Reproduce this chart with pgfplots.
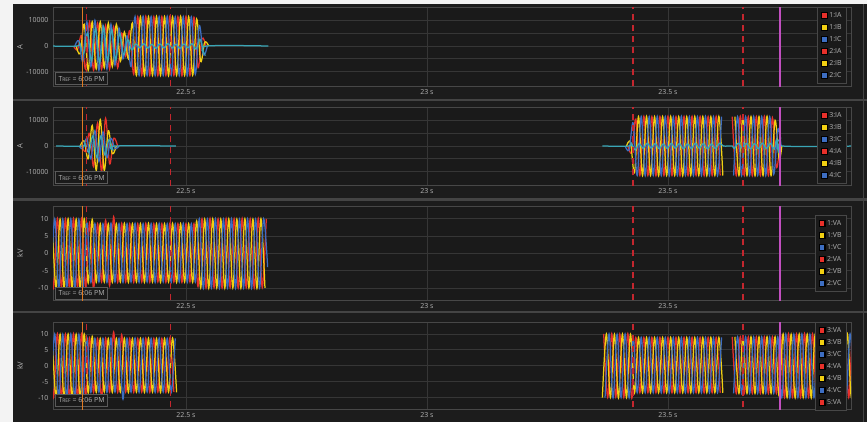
\documentclass[border=0pt]{standalone}
\usepackage{pgfplots}
\pgfplotsset{compat=1.18}
\usepackage{fontspec}
\setmainfont{Open Sans}
\definecolor{outerbg}{HTML}{1C1C1C}
\definecolor{plotbg}{HTML}{1A1A1A}
\definecolor{gridc}{HTML}{363636}
\definecolor{framec}{HTML}{474747}
\definecolor{sepc}{HTML}{444444}
\definecolor{txt}{HTML}{B4B4B4}
\definecolor{cA}{HTML}{E8302A}
\definecolor{cB}{HTML}{F2D012}
\definecolor{cC}{HTML}{3D6EC2}
\definecolor{cN}{HTML}{3AA6B6}
\definecolor{cOr}{HTML}{E07A22}
\definecolor{cDash}{HTML}{C4262E}
\definecolor{cMag}{HTML}{C24FC0}
\definecolor{boxc}{HTML}{5A5A5A}
\definecolor{margin}{HTML}{F3F3F3}

\pgfplotsset{
  panel/.style={
    scale only axis, width=798bp,
    xmin=80.7, xmax=676.7,
    xtick={180,360,540}, xticklabels={22.5 s,23 s,23.5 s},
    scaled y ticks=false, scaled x ticks=false,
    grid=both,
    major grid style={draw=gridc, line width=0.7bp},
    minor grid style={draw=gridc, line width=0.7bp},
    major tick length=0pt, minor tick length=0pt,
    axis line style={draw=framec, line width=0.8bp},
    axis background/.style={fill=plotbg},
    tick label style={text=txt, font=\fontsize{7}{8}\selectfont},
    yticklabel style={xshift=-1bp},
    every axis y label/.style={at={(axis description cs:0,0.5)}, xshift=-33bp, rotate=90, anchor=center, text=txt, font=\fontsize{7.5}{8}\selectfont},
    clip mode=individual,
    every axis plot/.append style={line width=1.25bp, mark=none, smooth, tension=0.55},
    legend cell align=left,
    legend image code/.code={\path[##1] (0.5bp,-2.9bp) rectangle (6.3bp,2.9bp);},
    legend style={at={(1,1)}, anchor=north east, xshift=-4bp, fill=plotbg, draw=framec, line width=0.7bp, text=txt, font=\fontsize{7}{8}\selectfont, inner sep=3.5bp, row sep=3bp, nodes={inner sep=1.5bp, text height=4.8bp, text depth=1.2bp}},
  },
  dashl/.style={cDash, line width=1.1bp, dash pattern=on 6bp off 5bp, forget plot},
  orl/.style={cOr, line width=1.4bp, forget plot},
  magl/.style={cMag, line width=1.3bp, forget plot},
}
\tikzset{tref/.style={draw=boxc, fill=plotbg, text=txt, font=\fontsize{7}{8}\selectfont, inner sep=0pt, minimum width=52.5bp, minimum height=12bp, anchor=south west, line width=0.6bp}}
\newcommand{\treftext}{T{\fontsize{5}{5}\selectfont REF} = 6:06 PM}

\begin{document}
\begin{tikzpicture}
\useasboundingbox (0,0) rectangle (867bp,-422bp);
\fill[margin] (0,0) rectangle (867bp,-422bp);
\fill[outerbg] (13bp,-4bp) rectangle (867bp,-422bp);

% ---------------- Panel 1 ----------------
\begin{axis}[panel, at={(53bp,-86bp)}, anchor=south west, height=78.7bp,
  ymin=-15600, ymax=15100, ytick={-10000,0,10000}, yticklabels={-10000,0,10000},
  minor ytick={-5000,5000}, ylabel={A}]
\addplot[cA, forget plot] coordinates {(96,0)(99,-1500)(102,4000)(105,-9000)(108,9500)(111,-9500)(114,9000)(117,-9200)(120,8000)(123,-9000)(126,7500)(129,-8500)(132,5000)(135,-4000)(138,6000)(141,-11000)(144,11500)(147,-11500)(150,11600)(153,-11500)(156,11500)(159,-11600)(162,11500)(165,-11500)(168,11600)(171,-11500)(174,11500)(177,-11600)(180,11500)(183,-11500)(186,11200)(189,-8500)(192,3000)(195,0)};
\addplot[cB, forget plot] coordinates {(98,0)(101,-3000)(104,8500)(107,-9500)(110,9500)(113,-9000)(116,9500)(119,-8500)(122,9000)(125,-8000)(128,8500)(131,-6000)(134,5500)(137,-5000)(140,9000)(143,-11500)(146,11500)(149,-11600)(152,11500)(155,-11500)(158,11600)(161,-11500)(164,11500)(167,-11600)(170,11500)(173,-11500)(176,11600)(179,-11500)(182,11500)(185,-11400)(188,10500)(191,-6000)(194,1500)(197,0)};
\addplot[cC, forget plot] coordinates {(97,0)(100,2000)(103,-6000)(106,9500)(109,-8000)(112,10000)(115,-9500)(118,8000)(121,-9000)(124,8500)(127,-7500)(130,7000)(133,-5000)(136,4000)(139,-8000)(142,11500)(145,-11500)(148,11600)(151,-11500)(154,11500)(157,-11600)(160,11500)(163,-11500)(166,11600)(169,-11500)(172,11500)(175,-11600)(178,11500)(181,-11500)(184,11400)(187,-11000)(190,8000)(193,-3500)(196,0)};
\addplot[cN, forget plot] coordinates {(78,0)(99,0)(100.5,1500)(103.5,-3000)(106.5,5000)(109.5,-6000)(112.5,7000)(115.5,-6500)(118.5,7500)(121.5,-6000)(124.5,6500)(127.5,-5500)(130.5,5000)(133.5,-3500)(136.5,2500)(139.5,-1500)(142.5,800)(145.5,-700)(148.5,900)(151.5,-800)(154.5,700)(157.5,-900)(160.5,800)(163.5,-700)(166.5,900)(169.5,-800)(172.5,700)(175.5,-900)(178.5,800)(181.5,-700)(184.5,900)(187.5,-1200)(190.5,2600)(193.5,-2800)(195.5,0)(241.5,0)};
\addplot[dashl] coordinates {(105.8,-20000)(105.8,20000)};
\addplot[dashl] coordinates {(168.6,-20000)(168.6,20000)};
\addplot[dashl] coordinates {(513.9,-20000)(513.9,20000)};
\addplot[dashl] coordinates {(596.0,-20000)(596.0,20000)};
\node[tref] at (rel axis cs:0.0025,0.013) {\treftext};
\addplot[orl] coordinates {(102.8,-20000)(102.8,20000)};
\addplot[magl] coordinates {(623.7,-20000)(623.7,20000)};
\addlegendimage{fill=cA}\addlegendentry{1:IA}
\addlegendimage{fill=cB}\addlegendentry{1:IB}
\addlegendimage{fill=cC}\addlegendentry{1:IC}
\addlegendimage{fill=cA}\addlegendentry{2:IA}
\addlegendimage{fill=cB}\addlegendentry{2:IB}
\addlegendimage{fill=cC}\addlegendentry{2:IC}
\end{axis}

% ---------------- Panel 2 ----------------
\begin{axis}[panel, at={(53bp,-185bp)}, anchor=south west, height=77.7bp,
  ymin=-15200, ymax=15100, ytick={-10000,0,10000}, yticklabels={-10000,0,10000},
  minor ytick={-5000,5000}, ylabel={A}]
\addplot[cA, forget plot] coordinates {(102,0)(105,-2000)(108,5000)(111,-8000)(114,9000)(117,-10000)(120,10800)(123,-7000)(126,3000)(129,0)};
\addplot[cB, forget plot] coordinates {(101,0)(104,2000)(107,-5000)(110,8000)(113,-9500)(116,10300)(119,-9500)(122,6000)(125,-3000)(128,0)};
\addplot[cC, forget plot] coordinates {(100,0)(103,-1000)(106,3000)(109,-5000)(112,6000)(115,-6000)(118,5500)(121,-4500)(124,3000)(127,-1000)(130,0)};
\addplot[cN, forget plot] coordinates {(83,0)(103,0)(104.5,1000)(107.5,-2500)(110.5,4000)(113.5,-4500)(116.5,4000)(119.5,-3500)(122.5,2500)(125.5,-1500)(127,0)(172.5,0)};
\addplot[cA, forget plot] coordinates {(510,0)(513,-2500)(516,10500)(519,-11500)(522,11600)(525,-11500)(528,11500)(531,-11600)(534,11500)(537,-11500)(540,11600)(543,-11500)(546,11500)(549,-11600)(552,11500)(555,-11500)(558,11600)(561,-11500)(564,11500)(567,-11600)(570,11500)(573,-11500)(576,11600)(579,-11500)};
\addplot[cB, forget plot] coordinates {(509,0)(512,1500)(515,-10500)(518,11500)(521,-11500)(524,11600)(527,-11500)(530,11500)(533,-11600)(536,11500)(539,-11500)(542,11600)(545,-11500)(548,11500)(551,-11600)(554,11500)(557,-11500)(560,11600)(563,-11500)(566,11500)(569,-11600)(572,11500)(575,-11500)(578,11600)(581,-11500)};
\addplot[cC, forget plot] coordinates {(508,0)(511,-1500)(514,9000)(517,-11500)(520,11500)(523,-11600)(526,11500)(529,-11500)(532,11600)(535,-11500)(538,11500)(541,-11600)(544,11500)(547,-11500)(550,11600)(553,-11500)(556,11500)(559,-11600)(562,11500)(565,-11500)(568,11600)(571,-11500)(574,11500)(577,-11600)(580,11500)};
\addplot[cA, forget plot] coordinates {(588,11500)(591,-11500)(594,11600)(597,-11500)(600,11500)(603,-11600)(606,11500)(609,-11500)(612,11600)(615,-11500)(618,11000)(621,-8500)(624,2500)};
\addplot[cB, forget plot] coordinates {(590,11500)(593,-11500)(596,11600)(599,-11500)(602,11500)(605,-11600)(608,11500)(611,-11500)(614,11600)(617,-11500)(620,10000)(623,-5000)(625,0)};
\addplot[cC, forget plot] coordinates {(589,-11500)(592,11500)(595,-11600)(598,11500)(601,-11500)(604,11600)(607,-11500)(610,11500)(613,-11600)(616,11500)(619,-11000)(622,6500)(624.5,0)};
\addplot[cN, forget plot] coordinates {(491,0)(511,0)(512.5,1200)(515.5,-1500)(518.5,1000)(521.5,-900)(524.5,1100)(527.5,-800)(530.5,1000)(533.5,-1100)(536.5,900)(539.5,-1000)(542.5,1100)(545.5,-900)(548.5,1000)(551.5,-1100)(554.5,900)(557.5,-1000)(560.5,1100)(563.5,-900)(566.5,1000)(569.5,-1100)(572.5,900)(575.5,-1000)(578.5,1100)(581.5,0)(588,0)(589.5,-1000)(592.5,1100)(595.5,-900)(598.5,1000)(601.5,-1100)(604.5,900)(607.5,-1000)(610.5,1100)(613.5,-900)(616.5,1000)(619.5,-1200)(621,2500)(622.5,-2000)(624,2800)(625.5,0)(680,0)};
\addplot[dashl] coordinates {(105.8,-20000)(105.8,20000)};
\addplot[dashl] coordinates {(168.6,-20000)(168.6,20000)};
\addplot[dashl] coordinates {(513.9,-20000)(513.9,20000)};
\addplot[dashl] coordinates {(596.0,-20000)(596.0,20000)};
\node[tref] at (rel axis cs:0.0025,0.013) {\treftext};
\addplot[orl] coordinates {(102.8,-20000)(102.8,20000)};
\addplot[magl] coordinates {(623.7,-20000)(623.7,20000)};
\addlegendimage{fill=cA}\addlegendentry{3:IA}
\addlegendimage{fill=cB}\addlegendentry{3:IB}
\addlegendimage{fill=cC}\addlegendentry{3:IC}
\addlegendimage{fill=cA}\addlegendentry{4:IA}
\addlegendimage{fill=cB}\addlegendentry{4:IB}
\addlegendimage{fill=cC}\addlegendentry{4:IC}
\end{axis}

% ---------------- Panel 3 ----------------
\begin{axis}[panel, at={(53bp,-300bp)}, anchor=south west, height=94bp,
  ymin=-13.5, ymax=13.7, ytick={-10,-5,0,5,10}, yticklabels={-10,-5,0,5,10},
  ylabel={kV}, legend style={yshift=-9bp}]
\addplot[cA, forget plot] coordinates {(78,10)(81,-10)(84,10.1)(87,-9.9)(90,10)(93,-10)(96,10.1)(99,-9.9)(102,10)(105,-9.6)(108,8.9)(111,-10.4)(114,8.6)(117,-8.3)(120,9.6)(123,-9.4)(126,10.6)(129,-8.4)(132,8.7)(135,-8.3)(138,8.6)(141,-8.4)(144,8.6)(147,-8.3)(150,8.7)(153,-8.4)(156,8.6)(159,-8.3)(162,8.6)(165,-8.4)(168,8.7)(171,-8.3)(174,8.6)(177,-8.4)(180,8.6)(183,-8.3)(186,8.6)(189,-9.6)(192,10)(195,-10)(198,10.1)(201,-9.9)(204,10)(207,-10)(210,10.1)(213,-9.9)(216,10)(219,-10)(222,10.1)(225,-9.9)(228,10)(231,-10)(234,10.1)(237,-9.9)(240,10)};
\addplot[cB, forget plot] coordinates {(80,10)(83,-10)(86,9.9)(89,-10.1)(92,10)(95,-10)(98,9.9)(101,-10.1)(104,10)(107,-8.6)(110,9.8)(113,-8.4)(116,8.6)(119,-8.3)(122,8.6)(125,-8.4)(128,8.6)(131,-8.3)(134,8.7)(137,-8.4)(140,8.6)(143,-8.3)(146,8.6)(149,-8.4)(152,8.7)(155,-8.3)(158,8.6)(161,-8.4)(164,8.6)(167,-8.3)(170,8.7)(173,-8.4)(176,8.6)(179,-8.3)(182,8.6)(185,-8.4)(188,9.4)(191,-10)(194,9.9)(197,-10.1)(200,10)(203,-10)(206,9.9)(209,-10.1)(212,10)(215,-10)(218,9.9)(221,-10.1)(224,10)(227,-10)(230,9.9)(233,-10.1)(236,10)(239,-10)};
\addplot[cC, forget plot] coordinates {(79,-10)(82,10)(85,-10.1)(88,9.9)(91,-10)(94,10)(97,-10.1)(100,9.9)(103,-10)(106,8.9)(109,-8.4)(112,8.6)(115,-8.3)(118,8.6)(121,-8.4)(124,8.7)(127,-8.3)(130,8.6)(133,-8.4)(136,8.6)(139,-8.3)(142,8.7)(145,-8.4)(148,8.6)(151,-8.3)(154,8.6)(157,-8.4)(160,8.7)(163,-8.3)(166,8.6)(169,-8.4)(172,8.6)(175,-8.3)(178,8.7)(181,-8.4)(184,8.6)(187,-8.3)(190,10)(193,-10.1)(196,9.9)(199,-10)(202,10)(205,-10.1)(208,9.9)(211,-10)(214,10)(217,-10.1)(220,9.9)(223,-10)(226,10)(229,-10.1)(232,9.9)(235,-10)(238,10)(241,-4)};
\addplot[dashl] coordinates {(105.8,-20)(105.8,20)};
\addplot[dashl] coordinates {(168.6,-20)(168.6,20)};
\addplot[dashl] coordinates {(513.9,-20)(513.9,20)};
\addplot[dashl] coordinates {(596.0,-20)(596.0,20)};
\node[tref] at (rel axis cs:0.0025,0.008) {\treftext};
\addplot[orl] coordinates {(102.8,-20)(102.8,20)};
\addplot[magl] coordinates {(623.7,-20)(623.7,20)};
\addlegendimage{fill=cA}\addlegendentry{1:VA}
\addlegendimage{fill=cB}\addlegendentry{1:VB}
\addlegendimage{fill=cC}\addlegendentry{1:VC}
\addlegendimage{fill=cA}\addlegendentry{2:VA}
\addlegendimage{fill=cB}\addlegendentry{2:VB}
\addlegendimage{fill=cC}\addlegendentry{2:VC}
\end{axis}

% ---------------- Panel 4 ----------------
\begin{axis}[panel, at={(53bp,-409.3bp)}, anchor=south west, height=87bp,
  ymin=-13.7, ymax=13.65, ytick={-10,-5,0,5,10}, yticklabels={-10,-5,0,5,10},
  ylabel={kV}]
\addplot[cA, forget plot] coordinates {(78,10)(81,-10)(84,10.1)(87,-9.9)(90,10)(93,-10)(96,10.1)(99,-9.9)(102,10)(105,-9.2)(108,8.8)(111,-8.4)(114,8.6)(117,-10.2)(120,8.7)(123,-8.3)(126,10.6)(129,-8.4)(132,9.8)(135,-8.3)(138,8.6)(141,-8.4)(144,8.6)(147,-8.3)(150,8.7)(153,-8.4)(156,8.6)(159,-8.3)(162,8.6)(165,-8.4)(168,8.7)(171,-8.3)};
\addplot[cB, forget plot] coordinates {(80,10)(83,-10)(86,9.9)(89,-10.1)(92,10)(95,-10)(98,9.9)(101,-10.1)(104,10)(107,-8.6)(110,9.2)(113,-8.4)(116,8.6)(119,-8.3)(122,8.6)(125,-8.4)(128,8.6)(131,-8.3)(134,8.7)(137,-8.4)(140,8.6)(143,-8.3)(146,8.6)(149,-8.4)(152,8.7)(155,-8.3)(158,8.6)(161,-8.4)(164,8.6)(167,-8.3)(170,8.7)(173,-8.4)};
\addplot[cC, forget plot] coordinates {(79,-10)(82,10)(85,-10.1)(88,9.9)(91,-10)(94,10)(97,-10.1)(100,9.9)(103,-10)(106,8.9)(109,-8.4)(112,8.6)(115,-8.3)(118,8.6)(121,-8.4)(124,8.7)(127,-8.3)(130,8.6)(133,-10.5)(136,8.6)(139,-8.3)(142,8.7)(145,-8.4)(148,8.6)(151,-8.3)(154,8.6)(157,-8.4)(160,8.7)(163,-8.3)(166,8.6)(169,-8.4)(172,8.6)};
\addplot[cA, forget plot] coordinates {(492,10)(495,-10)(498,10.1)(501,-9.9)(504,10)(507,-10)(510,10.1)(513,-10.2)(516,8.9)(519,-8.5)(522,8.9)(525,-8.5)(528,8.9)(531,-8.5)(534,8.9)(537,-8.5)(540,8.9)(543,-8.5)(546,8.9)(549,-8.5)(552,8.9)(555,-8.5)(558,8.9)(561,-8.5)(564,8.9)(567,-8.5)(570,8.9)(573,-8.5)(576,8.9)(579,-8.5)};
\addplot[cB, forget plot] coordinates {(491,-10)(494,10)(497,-10)(500,9.9)(503,-10.1)(506,10)(509,-10)(512,9.9)(515,-8.6)(518,8.9)(521,-8.5)(524,8.9)(527,-8.5)(530,8.9)(533,-8.5)(536,8.9)(539,-8.5)(542,8.9)(545,-8.5)(548,8.9)(551,-8.5)(554,8.9)(557,-8.5)(560,8.9)(563,-8.5)(566,8.9)(569,-8.5)(572,8.9)(575,-8.5)(578,8.9)(581,-8.5)};
\addplot[cC, forget plot] coordinates {(493,-10)(496,10)(499,-10.1)(502,9.9)(505,-10)(508,10)(511,-10.1)(514,8.9)(517,-8.5)(520,8.9)(523,-8.5)(526,8.9)(529,-8.5)(532,8.9)(535,-8.5)(538,8.9)(541,-8.5)(544,8.9)(547,-8.5)(550,8.9)(553,-8.5)(556,8.9)(559,-8.5)(562,8.9)(565,-8.5)(568,8.9)(571,-8.5)(574,8.9)(577,-8.5)(580,8.9)};
\addplot[cA, forget plot] coordinates {(588,9.1)(591,-8.7)(594,9.1)(597,-8.7)(600,9.1)(603,-8.7)(606,9.1)(609,-8.7)(612,9.1)(615,-8.7)(618,9.1)(621,-8.7)(624,10)(627,-10)(630,10.1)(633,-9.9)(636,10)(639,-10)(642,10.1)(645,-9.9)(648,10)(651,-10)(654,10.1)(657,-9.9)(660,10)(663,-10)(666,10.1)(669,-9.9)(672,10)(675,-10)(678,10.1)(681,-10)};
\addplot[cB, forget plot] coordinates {(590,9.1)(593,-8.7)(596,9.1)(599,-8.7)(602,9.1)(605,-8.7)(608,9.1)(611,-8.7)(614,9.1)(617,-8.7)(620,9.1)(623,-9.5)(626,10)(629,-10)(632,9.9)(635,-10.1)(638,10)(641,-10)(644,9.9)(647,-10.1)(650,10)(653,-10)(656,9.9)(659,-10.1)(662,10)(665,-10)(668,9.9)(671,-10.1)(674,10)(677,-10)(680,9.9)};
\addplot[cC, forget plot] coordinates {(589,-8.7)(592,9.1)(595,-8.7)(598,9.1)(601,-8.7)(604,9.1)(607,-8.7)(610,9.1)(613,-8.7)(616,9.1)(619,-8.7)(622,9.1)(625,-10)(628,10)(631,-10.1)(634,9.9)(637,-10)(640,10)(643,-10.1)(646,9.9)(649,-10)(652,10)(655,-10.1)(658,9.9)(661,-10)(664,10)(667,-10.1)(670,9.9)(673,-10)(676,10)(679,-10.1)};
\addplot[dashl] coordinates {(105.8,-20)(105.8,20)};
\addplot[dashl] coordinates {(168.6,-20)(168.6,20)};
\addplot[dashl] coordinates {(513.9,-20)(513.9,20)};
\addplot[dashl] coordinates {(596.0,-20)(596.0,20)};
\node[tref] at (rel axis cs:0.0025,0.03) {\treftext};
\addplot[orl] coordinates {(102.8,-20)(102.8,20)};
\addplot[magl] coordinates {(623.7,-20)(623.7,20)};
\addlegendimage{fill=cA}\addlegendentry{3:VA}
\addlegendimage{fill=cB}\addlegendentry{3:VB}
\addlegendimage{fill=cC}\addlegendentry{3:VC}
\addlegendimage{fill=cA}\addlegendentry{4:VA}
\addlegendimage{fill=cB}\addlegendentry{4:VB}
\addlegendimage{fill=cC}\addlegendentry{4:VC}
\addlegendimage{fill=cA}\addlegendentry{5:VA}
\end{axis}

% separators and outer border
\fill[sepc] (13bp,-99.3bp) rectangle (867bp,-101.3bp);
\fill[sepc] (13bp,-198.3bp) rectangle (867bp,-200.5bp);
\fill[sepc] (13bp,-310.5bp) rectangle (867bp,-312.5bp);
\draw[sepc, line width=0.8bp] (863bp,-4bp) -- (863bp,-422bp);
\end{tikzpicture}
\end{document}
